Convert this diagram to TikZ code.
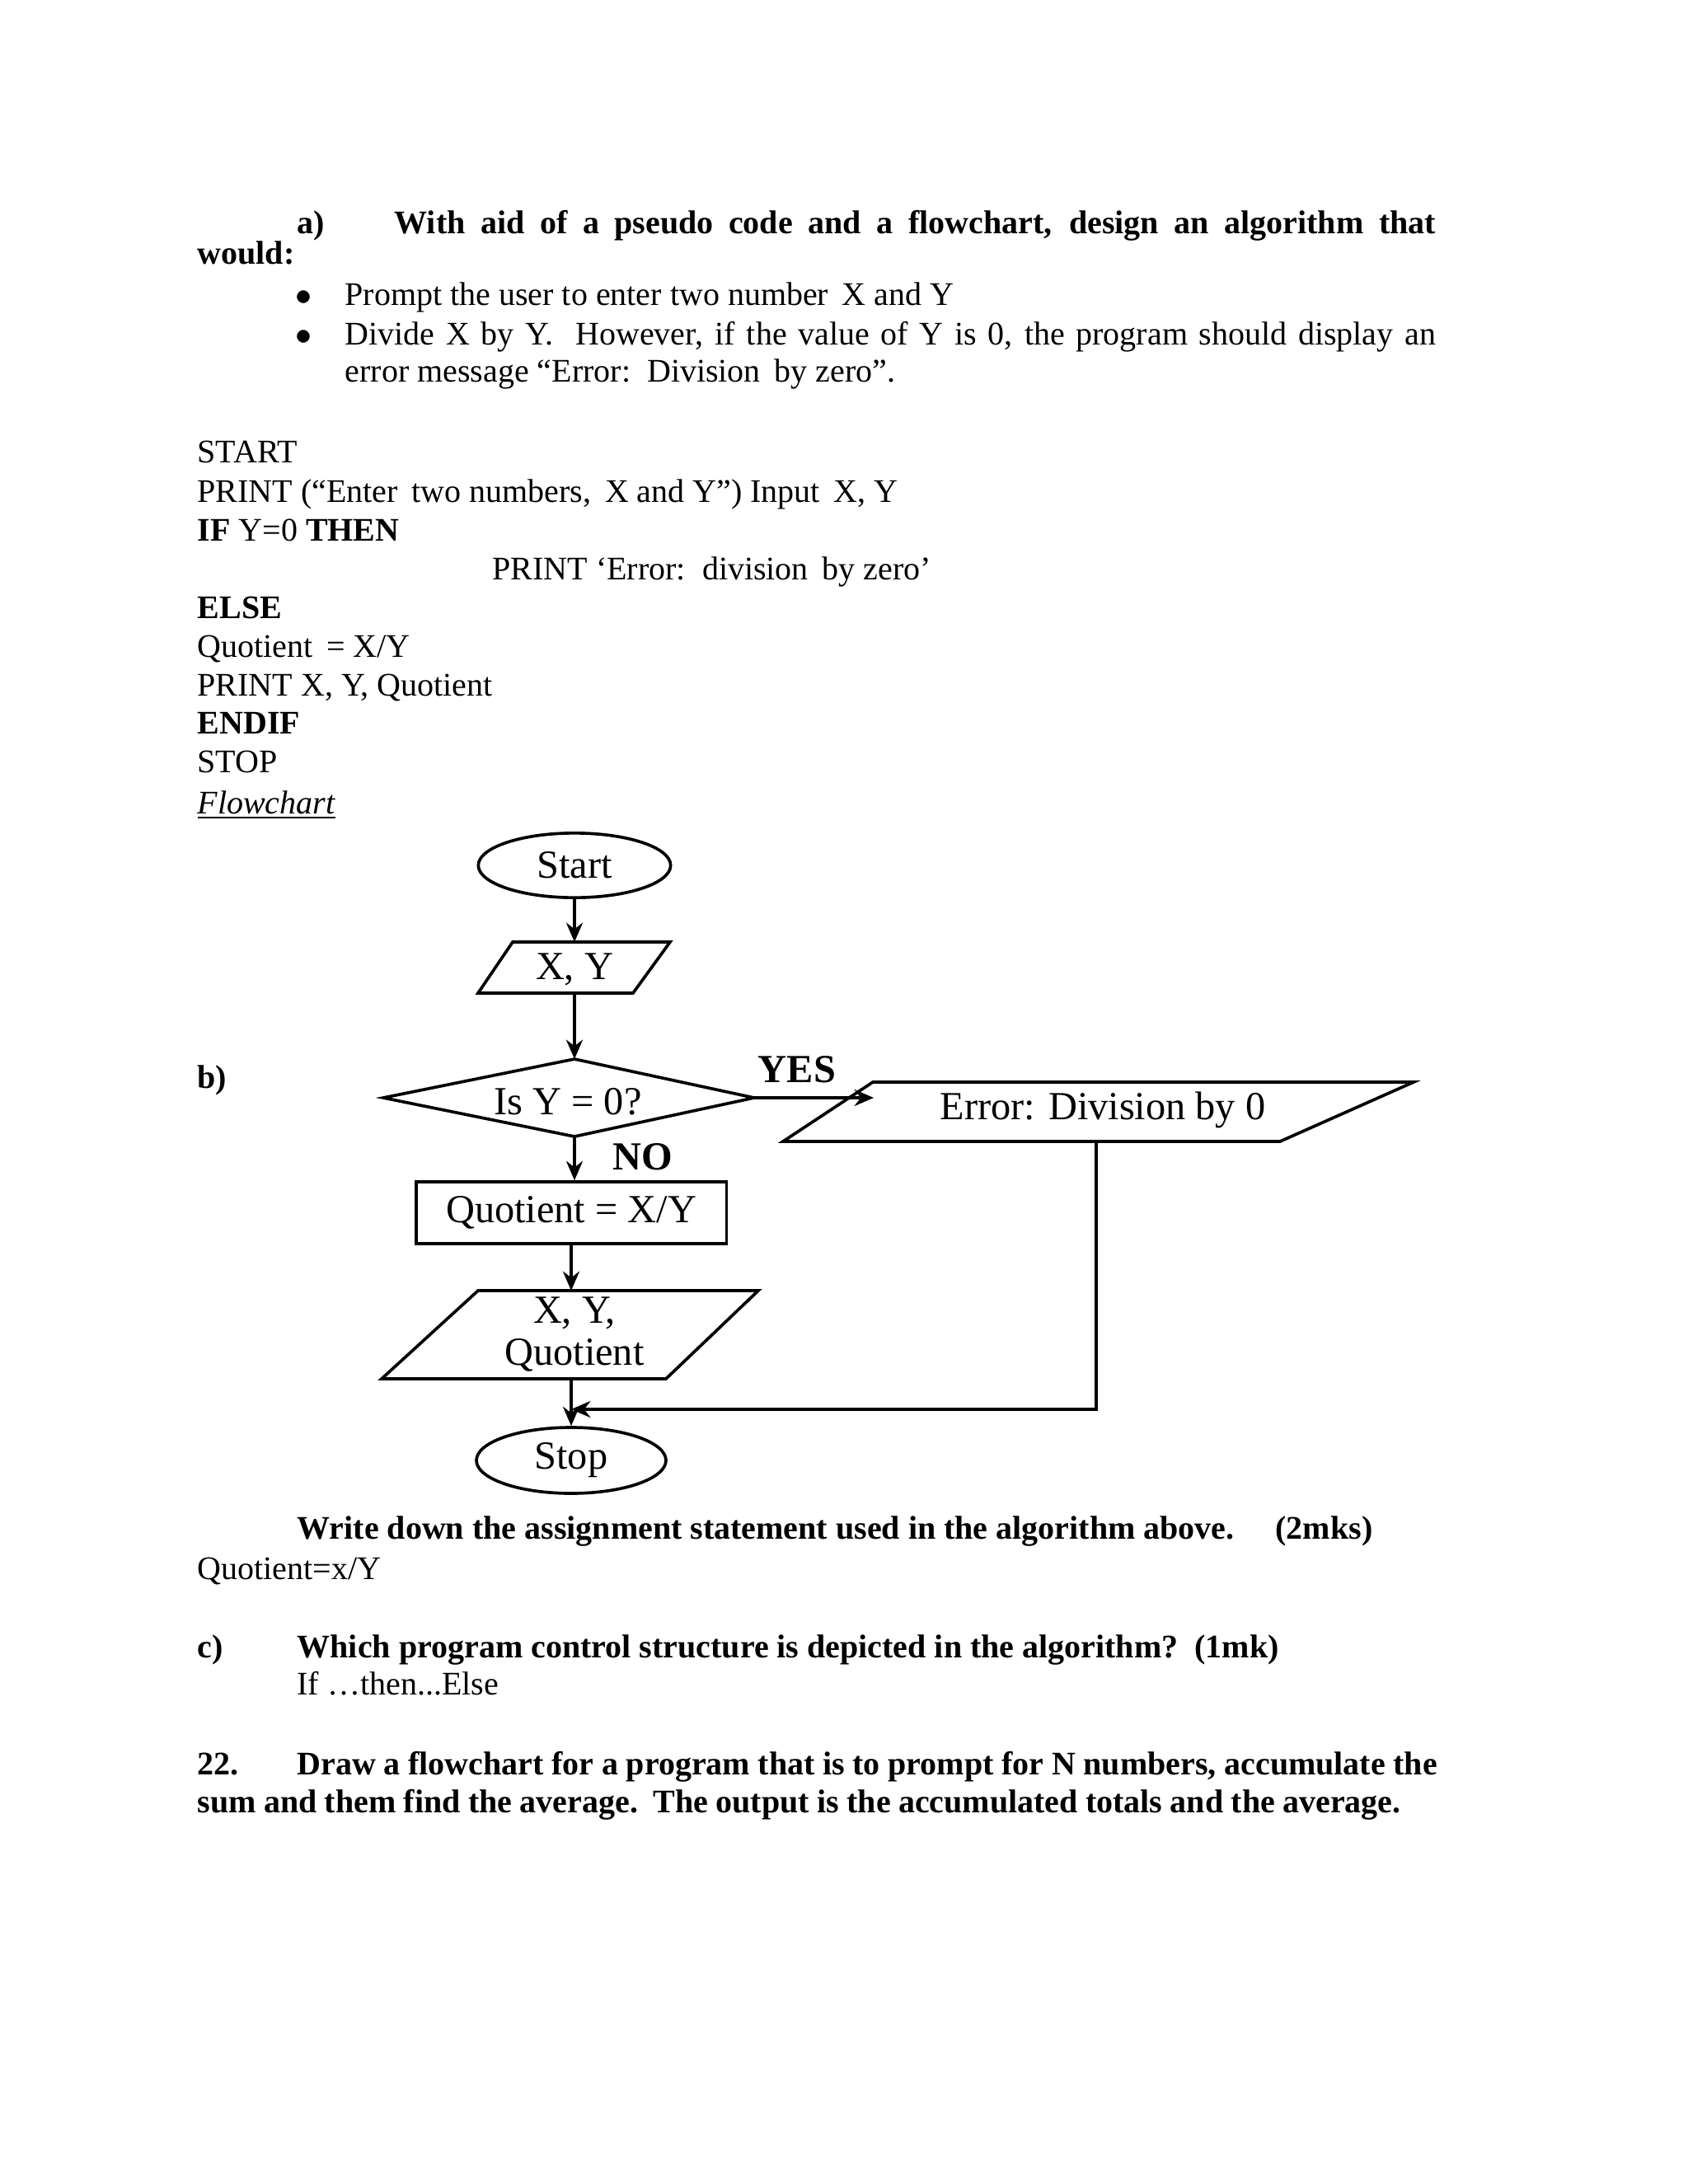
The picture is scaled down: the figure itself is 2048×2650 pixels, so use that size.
\documentclass[tikz,border=0pt]{standalone}
\usepackage{fontspec}
\setmainfont{Liberation Serif}
\usetikzlibrary{arrows.meta,shapes.geometric}
\begin{document}
\begin{tikzpicture}[x=0.3pt,y=-0.3pt,
  txt/.style={anchor=base west,inner sep=0pt,font=\fontsize{12}{14}\selectfont},
  btxt/.style={txt,font=\fontsize{12}{14}\selectfont\bfseries},
  fc/.style={line width=1.1pt},
  fct/.style={inner sep=0pt,font=\fontsize{14.5}{17}\selectfont},
  arr/.style={fc,-{Stealth[length=7pt,width=6pt]}}]
\useasboundingbox (0,0) rectangle (2048,2650);
% header
\node[btxt] (ha) at (360,283) {a)};
\node[btxt] (hb) at (478,283) {\makebox[379pt][s]{With aid of a pseudo code and a flowchart, design an algorithm that}};
\node[btxt] (hw) at (239,320) {would:};
\node[txt] (b1) at (358,370) {$\bullet$};
\node[txt] (t1) at (418,370) {Prompt the user to enter two number\, X and Y};
\node[txt] (b2) at (358,418) {$\bullet$};
\node[txt] (t2) at (418,418) {\makebox[397pt][s]{Divide X by Y.\ \ However, if the value of Y is 0, the program should display an}};
\node[txt] (t3) at (418,463) {error message “Error:\, Division\, by zero”.};
% pseudo code
\node[txt] (p1) at (239,561) {START};
\node[txt] (p2) at (239,609) {PRINT (“Enter\, two numbers,\, X and Y”) Input\, X, Y};
\node[txt] (p3) at (239,656) {\textbf{IF} Y=0 \textbf{THEN}};
\node[txt] (p4) at (597,703) {PRINT ‘Error:\, division\, by zero’};
\node[btxt] (p5) at (239,750) {ELSE};
\node[txt] (p6) at (239,797) {Quotient\, = X/Y};
\node[txt] (p7) at (239,844) {PRINT X, Y, Quotient};
\node[btxt] (p8) at (239,890) {ENDIF};
\node[txt] (p9) at (239,937) {STOP};
\node[txt] (p10) at (239,987) {\underline{\textit{Flowchart}}};
\node[btxt] (lb) at (239,1320) {b)};
% flowchart
\node[fc,draw,ellipse,minimum width=70pt,minimum height=23.5pt,fct] (start) at (697,1050) {Start};
\draw[fc] (580,1205) -- (622,1143) -- (813,1143) -- (768,1205) -- cycle;
\coordinate (xyt) at (697,1143);
\coordinate (xyb) at (697,1205);
\node[fct] (xy) at (697,1176) {X, Y};
\draw[fc] (465,1332) -- (697,1285) coordinate (dtop) -- (915,1332) coordinate (dright) -- (697,1379) coordinate (dbot) -- cycle;
\node[fct] (dec) at (689,1337) {Is Y = 0?};
\draw[fc] (950,1385) -- (1059,1313) -- (1715,1313) -- (1553,1385) -- cycle;
\coordinate (errl) at (1060,1332);
\coordinate (errb) at (1330,1385);
\node[fct] (err) at (1338,1347) {Error: Division by 0};
\node[fc,draw,minimum width=113pt,minimum height=22.5pt,fct] (quo) at (693,1471.5) {Quotient = X/Y};
\draw[fc] (463,1673) -- (580,1566) -- (920,1566) -- (808,1673) -- cycle;
\coordinate (otop) at (693,1566);
\coordinate (obot) at (693,1673);
\node[fct,align=center,font=\fontsize{14.5}{15.5}\selectfont] (out) at (697,1619) {X, Y,\\Quotient};
\node[fc,draw,ellipse,minimum width=69pt,minimum height=24pt,fct] (stop) at (693,1772) {Stop};
\node[fct,font=\fontsize{14.5}{17}\selectfont\bfseries] (yes) at (967,1298) {YES};
\node[fct,font=\fontsize{14.5}{17}\selectfont\bfseries] (no) at (780,1404) {NO};
\draw[arr] (start) -- (xyt);
\draw[arr] (xyb) -- (dtop);
\draw[arr] (dright) -- (errl);
\draw[arr] (dbot) -- (dbot |- quo.north);
\draw[arr] (quo) -- (otop);
\draw[arr] (obot) -- (stop);
\coordinate (join) at (693,1710);
\draw[arr] (errb) -- (1330,1710) -- (join);
% questions
\node[btxt] (q1) at (360,1867) {Write down the assignment statement used in the algorithm above.};
\node[btxt,anchor=base east] (q1m) at (1666,1867) {(2mks)};
\node[txt] (a1) at (239,1916) {Quotient=x/Y};
\node[btxt] (lc) at (239,2011) {c)};
\node[btxt] (q2) at (360,2011) {Which program control structure is depicted in the algorithm?\, (1mk)};
\node[txt] (a2) at (360,2056) {If …then...Else};
\node[btxt] (n22) at (239,2153) {22.};
\node[btxt] (q3) at (360,2153) {\makebox[415pt][s]{Draw a flowchart for a program that is to prompt for N numbers, accumulate the}};
\node[btxt] (q3b) at (239,2199) {\makebox[438pt][s]{sum and them find the average.\ \ The output is the accumulated totals and the average.}};
\end{tikzpicture}
\end{document}
